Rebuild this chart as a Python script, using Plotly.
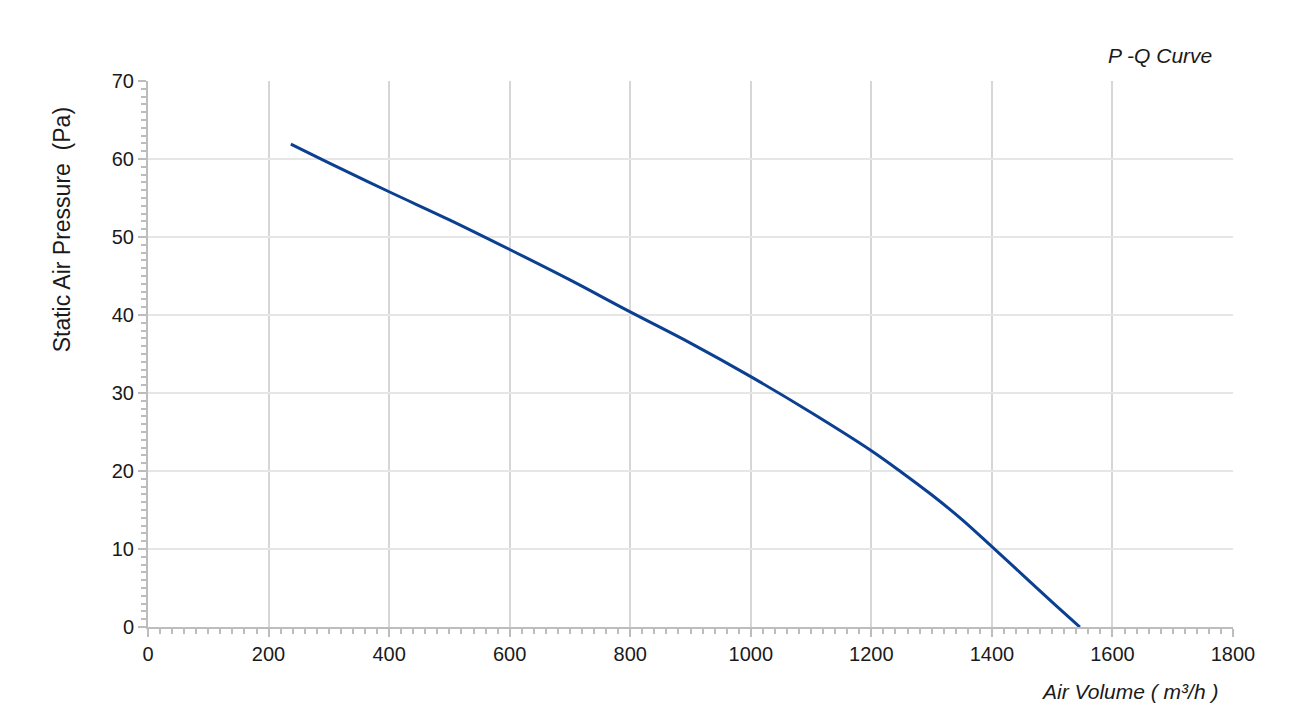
import plotly.graph_objects as go

# Data (P-Q curve)
air_volume = [237, 300, 400, 500, 600, 700, 800, 900, 1000, 1100, 1200,
              1250, 1300, 1350, 1400, 1450, 1500, 1546]
static_pressure = [61.9, 59.5, 55.8, 52.2, 48.4, 44.5, 40.4, 36.4, 32.1, 27.5, 22.6,
                   19.85, 16.95, 13.8, 10.3, 6.75, 3.2, 0.0]

x_ticks = [0, 200, 400, 600, 800, 1000, 1200, 1400, 1600, 1800]
y_ticks = [0, 10, 20, 30, 40, 50, 60, 70]

FONT = "Liberation Sans, Arial, sans-serif"
AXIS_GRAY = "#bdbdbd"
TEXT = "#1a1a1a"

fig = go.Figure()
fig.add_trace(go.Scatter(
    x=air_volume, y=static_pressure, mode="lines",
    line=dict(color="#0b3f92", width=3, shape="spline", smoothing=1.0),
    hoverinfo="x+y", showlegend=False,
))

fig.update_layout(
    width=1291, height=712,
    margin=dict(l=140, r=66, t=73, b=93),
    paper_bgcolor="white", plot_bgcolor="white",
    font=dict(family=FONT, size=20, color=TEXT),
    xaxis=dict(
        range=[0, 1800], tickvals=x_ticks, ticktext=[str(v) for v in x_ticks],
        showgrid=True, gridcolor="#d6d6d6", gridwidth=2,
        showline=True, linecolor=AXIS_GRAY, linewidth=2, zeroline=False,
        ticks="outside", ticklen=8, tickwidth=2, tickcolor=AXIS_GRAY,
        tickfont=dict(size=20, color=TEXT),
        minor=dict(dtick=20, tick0=0, ticks="outside", ticklen=5, tickwidth=1.5,
                   tickcolor=AXIS_GRAY, showgrid=False),
    ),
    yaxis=dict(
        range=[0, 70], tickvals=y_ticks, ticktext=[str(v) for v in y_ticks],
        showgrid=True, gridcolor="#e6e6e6", gridwidth=2,
        showline=True, linecolor=AXIS_GRAY, linewidth=2, zeroline=False,
        ticks="outside", ticklen=8, tickwidth=2, tickcolor=AXIS_GRAY,
        tickfont=dict(size=20, color=TEXT),
        minor=dict(dtick=1, tick0=0, ticks="outside", ticklen=5, tickwidth=1.5,
                   tickcolor=AXIS_GRAY, showgrid=False),
    ),
    annotations=[
        dict(text="<i>P -Q Curve</i>", xref="paper", yref="paper",
             x=0.9825, y=1.0458, xanchor="right", yanchor="middle",
             showarrow=False, font=dict(size=21, color=TEXT, family=FONT)),
        dict(text="<i>Air Volume ( m³/h )</i>", xref="paper", yref="paper",
             x=0.988, y=-0.119, xanchor="right", yanchor="middle",
             showarrow=False, font=dict(size=21, color=TEXT, family=FONT)),
        dict(text="Static Air Pressure  (Pa)", xref="paper", yref="paper",
             x=-0.079, y=0.727, xanchor="center", yanchor="middle", textangle=-90,
             showarrow=False, font=dict(size=23, color=TEXT, family=FONT)),
    ],
)

fig.write_html("out.html")
